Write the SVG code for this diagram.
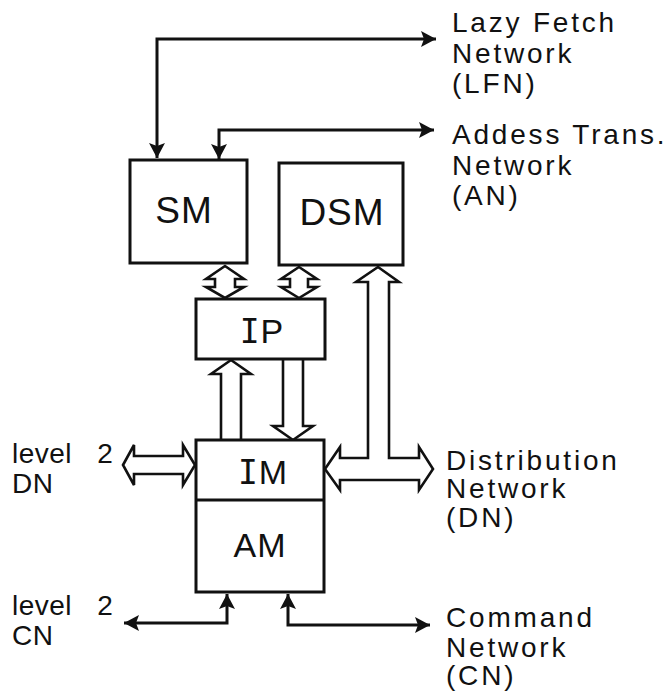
<svg xmlns="http://www.w3.org/2000/svg" width="670" height="694" viewBox="0 0 670 694">
  <style>
    .box { fill: #fff; stroke: #111; stroke-width: 3; }
    .hollow { fill: #fff; stroke: #111; stroke-width: 2.6; stroke-linejoin: miter; }
    .wire { fill: none; stroke: #111; stroke-width: 3; marker-start: url(#tip); marker-end: url(#tip); }
    .unit { font-family: "Liberation Sans", Arial, sans-serif; font-size: 37px; fill: #111; letter-spacing: 1px; text-anchor: middle; }
    .unit2 { font-family: "Liberation Sans", Arial, sans-serif; font-size: 34px; fill: #111; letter-spacing: 1px; text-anchor: middle; }
    .serifI { font-family: "DejaVu Sans Mono", monospace; font-size: 33px; }
    .note { font-family: "Liberation Sans", Arial, sans-serif; font-size: 28px; fill: #111; letter-spacing: 2.8px; }
    .side { font-family: "Liberation Sans", Arial, sans-serif; font-size: 28px; fill: #111; letter-spacing: 0.5px; }
  </style>
  <defs>
    <marker id="tip" markerUnits="userSpaceOnUse" markerWidth="16" markerHeight="16" refX="15" refY="8" orient="auto-start-reverse" viewBox="0 0 16 16">
      <path d="M0,0 L15,8 L0,16 L3,8 Z" fill="#111"/>
    </marker>
  </defs>

  <rect width="670" height="694" fill="#fff"/>

  <!-- connectors -->
  <g id="connectors">
    <!-- lazy fetch network -->
    <path class="wire" d="M157,158 L157,39 L436,39"/>
    <!-- address translation network -->
    <path class="wire" d="M219,159 L219,130 L434,130"/>
    <!-- SM <-> IP -->
    <polygon class="hollow" points="225,266 244,279 235,279 235,287 244,287 225,298 206,287 215,287 215,279 206,279"/>
    <!-- DSM <-> IP -->
    <polygon class="hollow" points="299,267 317,279 308,279 308,287 317,287 299,298 281,287 290,287 290,279 281,279"/>
    <!-- IM -> IP -->
    <polyline class="hollow" points="221,440 221,374 211,374 231,360 251,374 241,374 241,440"/>
    <!-- IP -> IM -->
    <polyline class="hollow" points="283,359 283,426 273,426 293,440 313,426 303,426 303,359"/>
    <!-- DSM / IM <-> distribution network -->
    <polygon class="hollow" points="378,267 399,282 389,282 389,458 419,458 419,447 433,469 419,490 419,480 340,480 340,490 325,469 340,447 340,458 368,458 368,282 356,282"/>
    <!-- level 2 DN <-> IM -->
    <polygon class="hollow" points="123,465 134,445 134,456 183,456 183,445 195,465 183,485 183,474 134,474 134,485"/>
    <!-- command network -->
    <path class="wire" d="M227,594 L227,623 L124,623"/>
    <path class="wire" d="M288,594 L288,625 L430,625"/>
  </g>

  <g id="SM">
    <rect class="box" x="130" y="160" width="117" height="103"/>
    <text class="unit" x="184" y="223">SM</text>
  </g>

  <g id="DSM">
    <rect class="box" x="279" y="163" width="124" height="102"/>
    <text class="unit" x="342" y="225">DSM</text>
  </g>

  <g id="IP">
    <rect class="box" x="196" y="299" width="129" height="60"/>
    <text class="unit2" x="262" y="343"><tspan class="serifI">I</tspan>P</text>
  </g>

  <g id="IM-AM">
    <rect class="box" x="196" y="440" width="128" height="152"/>
    <line x1="196" y1="500" x2="324" y2="500" stroke="#111" stroke-width="3"/>
    <text class="unit2" x="263" y="484"><tspan class="serifI">I</tspan>M</text>
    <text class="unit2" x="260" y="557">AM</text>
  </g>

  <g id="LFN">
    <text class="note" x="452" y="32">Lazy Fetch</text>
    <text class="note" x="452" y="63">Network</text>
    <text class="note" x="452" y="93">(LFN)</text>
  </g>

  <g id="AN">
    <text class="note" x="452" y="144">Addess Trans.</text>
    <text class="note" x="452" y="175">Network</text>
    <text class="note" x="452" y="205">(AN)</text>
  </g>

  <g id="DN">
    <text class="note" x="446" y="470">Distribution</text>
    <text class="note" x="446" y="498">Network</text>
    <text class="note" x="446" y="527">(DN)</text>
  </g>

  <g id="CN">
    <text class="note" x="446" y="627">Command</text>
    <text class="note" x="446" y="657">Network</text>
    <text class="note" x="446" y="685">(CN)</text>
  </g>

  <g id="level2-DN">
    <text class="side" x="12" y="463" word-spacing="17">level 2</text>
    <text class="side" x="12" y="493">DN</text>
  </g>

  <g id="level2-CN">
    <text class="side" x="12" y="615" word-spacing="17">level 2</text>
    <text class="side" x="12" y="645">CN</text>
  </g>
</svg>
